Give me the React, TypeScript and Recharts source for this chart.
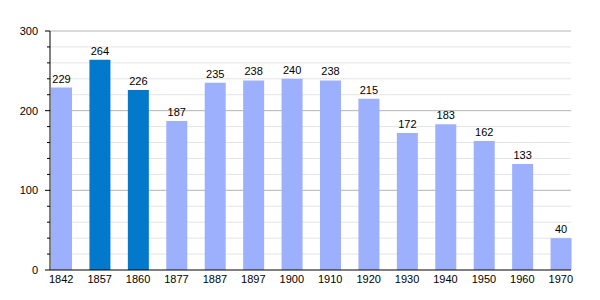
import React from 'react';
import { BarChart, Bar, XAxis, YAxis, Cell, LabelList, CartesianGrid } from 'recharts';

// census years and population counts
const years = ['1842', '1857', '1860', '1877', '1887', '1897', '1900', '1910', '1920', '1930', '1940', '1950', '1960', '1970'];
const population = [229, 264, 226, 187, 235, 238, 240, 238, 215, 172, 183, 162, 133, 40];
const highlighted = ['1857', '1860'];

const yTicks = [0, 20, 40, 60, 80, 100, 120, 140, 160, 180, 200, 220, 240, 260, 280, 300];
const yLabels = [0, 100, 200, 300];
const Y_MAX = 300;

const LIGHT = '#9db0fe';
const DARK = '#0479cc';
const FONT = '"Liberation Sans", Arial, sans-serif';

const YTick = (props: any) => {
  const { x, y, payload } = props;
  const major = yLabels.includes(payload.value);
  return (
    <g>
      <line x1={x - (major ? 5 : 3)} x2={x} y1={y} y2={y} stroke="#000" strokeWidth={1} />
      {major && (
        <text x={x - 12} y={y} dy={4} textAnchor="end" fontSize={11} fontFamily={FONT} fill="#000">
          {payload.value}
        </text>
      )}
    </g>
  );
};

// grid rows at chosen values; falls back to plot offset if no scale fn is handed over
const gridAt = (values: number[]) => (args: any) => {
  const { yAxis, offset } = args;
  if (yAxis && typeof yAxis.scale === 'function') return values.map(v => yAxis.scale(v));
  return values.map(v => offset.top + offset.height * (1 - v / Y_MAX));
};

const App: React.FC = () => {
  const data = years.map((year, i) => ({ year, value: population[i] }));
  const minor = yTicks.filter(v => !yLabels.includes(v));
  const major = yLabels.filter(v => v > 0);

  return (
    <div style={{ position: 'absolute', left: 0, top: 0, background: '#fff' }}>
      <BarChart width={600} height={300} data={data} margin={{ top: 31, right: 29, left: 0, bottom: 0 }}>
        <CartesianGrid vertical={false} stroke="#e4e4e4" horizontalCoordinatesGenerator={gridAt(minor)} />
        <CartesianGrid vertical={false} stroke="#b4b4b4" horizontalCoordinatesGenerator={gridAt(major)} />
        <XAxis
          dataKey="year"
          height={30}
          padding={{ left: -8, right: -9 }}
          tickLine={false}
          tickSize={0}
          tickMargin={5}
          axisLine={{ stroke: '#000' }}
          interval={0}
          tick={{ fontSize: 11, fontFamily: FONT, fill: '#000' }}
        />
        <YAxis
          width={50}
          domain={[0, Y_MAX]}
          ticks={yTicks}
          interval={0}
          tickLine={false}
          tickSize={0}
          tickMargin={0}
          axisLine={{ stroke: '#000' }}
          tick={<YTick />}
        />
        <Bar dataKey="value" barSize={21} isAnimationActive={false}>
          {data.map(d => (
            <Cell key={d.year} fill={highlighted.includes(d.year) ? DARK : LIGHT} />
          ))}
          <LabelList dataKey="value" position="top" offset={5} fontSize={11} fontFamily={FONT} fill="#000" />
        </Bar>
      </BarChart>
    </div>
  );
};

export default App;
